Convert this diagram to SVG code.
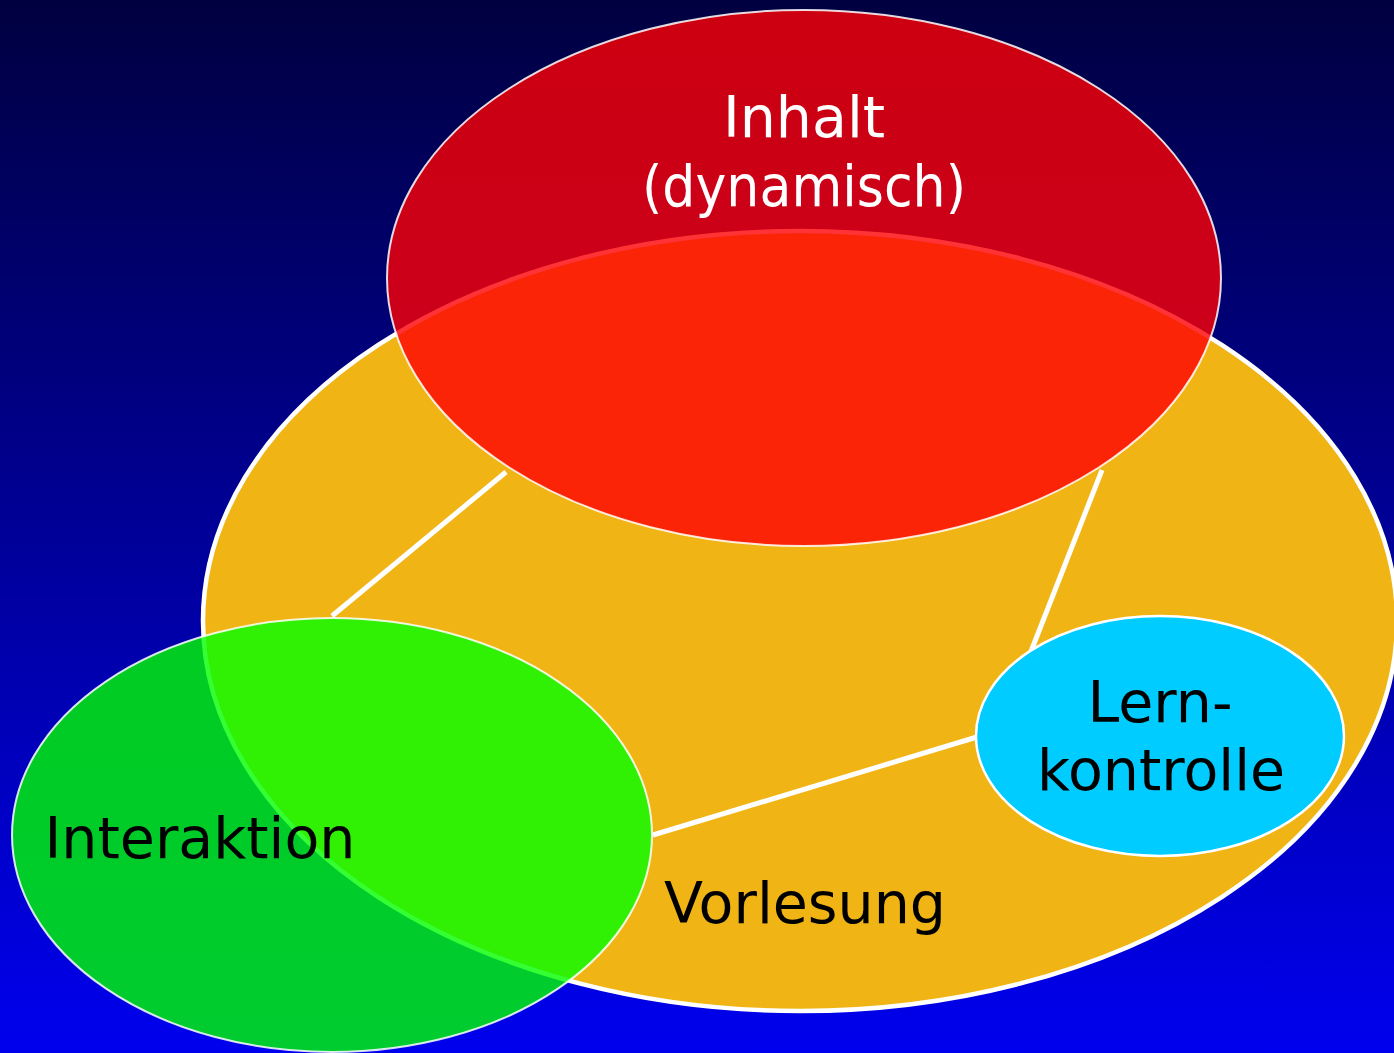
<svg xmlns="http://www.w3.org/2000/svg" width="1394" height="1053" viewBox="0 0 1394 1053">
<defs>
<linearGradient id="bg" x1="0" y1="0" x2="0" y2="1">
<stop offset="0" stop-color="#000040"/>
<stop offset="1" stop-color="#0000EE"/>
</linearGradient>
</defs>
<style>
.lbl{font-family:"DejaVu Sans","Noto Sans",sans-serif;font-size:57px;text-anchor:middle}
.conn{stroke:#FFFFFF;stroke-width:5;fill:none}
</style>
<rect x="0" y="0" width="1394" height="1053" fill="url(#bg)"/>
<g id="vorlesung">
<ellipse cx="800" cy="621" rx="597" ry="390" fill="#F0B414" stroke="#FFFFFF" stroke-width="4.5"/>
</g>
<g id="connectors">
<line class="conn" x1="506" y1="472" x2="332" y2="616"/>
<line class="conn" x1="1102" y1="470" x2="1030" y2="654"/>
<line class="conn" x1="977" y1="737" x2="653" y2="835"/>
</g>
<g id="inhalt">
<ellipse cx="804" cy="278" rx="417" ry="268" fill="#FF0004" fill-opacity="0.8" stroke="#FFFFFF" stroke-opacity="0.85" stroke-width="2"/>
<text class="lbl" x="804" y="137" fill="#FFFFFF">Inhalt</text>
<text class="lbl" x="804" y="206" fill="#FFFFFF" textLength="324" lengthAdjust="spacingAndGlyphs">(dynamisch)</text>
</g>
<g id="interaktion">
<ellipse cx="332" cy="835" rx="320" ry="217" fill="#00FF00" fill-opacity="0.8" stroke="#FFFFFF" stroke-opacity="0.85" stroke-width="2"/>
<text class="lbl" x="200" y="858" fill="#000000">Interaktion</text>
</g>
<g id="lernkontrolle">
<ellipse cx="1160" cy="736" rx="184" ry="120" fill="#00CCFF" stroke="#FFFFFF" stroke-width="2.5"/>
<text class="lbl" x="1160" y="722" fill="#000000">Lern-</text>
<text class="lbl" x="1161" y="790" fill="#000000">kontrolle</text>
</g>
<g id="vorlesung-label">
<text class="lbl" x="805" y="923" fill="#000000">Vorlesung</text>
</g>
</svg>
